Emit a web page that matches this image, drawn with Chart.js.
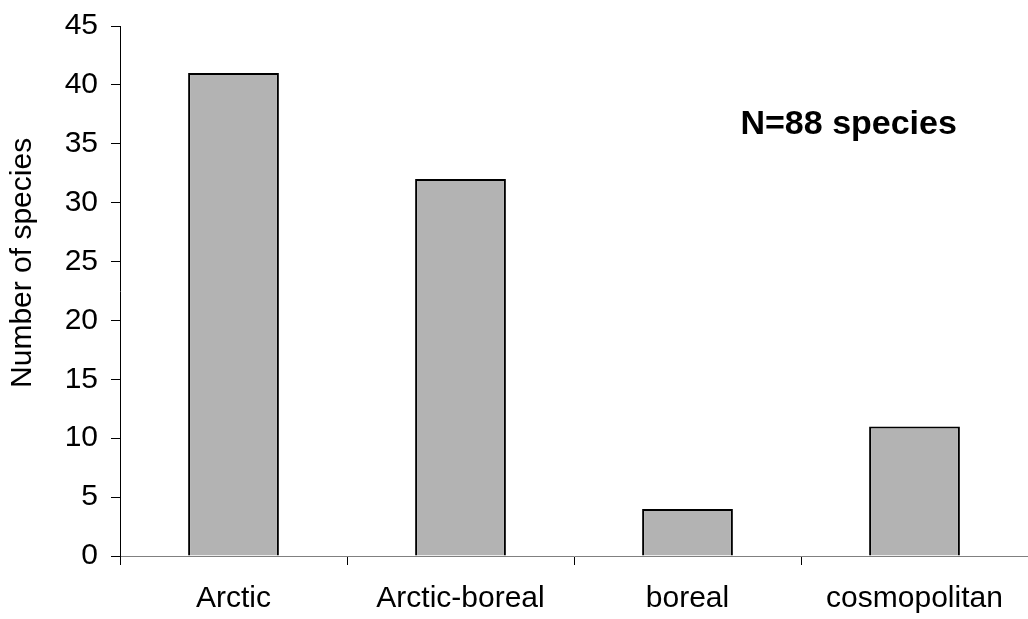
<!DOCTYPE html>
<html lang="en">
<head>
  <meta charset="utf-8">
  <title>Number of species by distribution group</title>
  <script src="https://cdn.jsdelivr.net/npm/chart.js@4/dist/chart.umd.min.js"></script>
  <style>
    body { margin: 0; background: #fff; }
  </style>
</head>
<body>
  <canvas id="c" width="1028" height="619"></canvas>
  <script>
    // data
    var categories = ['Arctic', 'Arctic-boreal', 'boreal', 'cosmopolitan'];
    var speciesCount = [41, 32, 4, 11];
    var yTicks = [0, 5, 10, 15, 20, 25, 30, 35, 40, 45];
    var yTitle = 'Number of species';
    var note = 'N=88 species';

    var fontFamily = '"Liberation Sans", Arial, sans-serif';

    // y title sits a bit above the middle of the axis, and the note in the upper right
    var textPlugin = {
      id: 'texts',
      afterDraw: function (chart) {
        var ctx = chart.ctx;
        var area = chart.chartArea;
        ctx.save();
        ctx.fillStyle = '#000';
        ctx.textAlign = 'center';
        ctx.textBaseline = 'middle';

        ctx.font = 'bold 34px ' + fontFamily;
        ctx.fillText(note, chart.scales.x.getPixelForValue(2.71), chart.scales.y.getPixelForValue(36.6));

        ctx.font = '30px ' + fontFamily;
        ctx.translate(23, area.top + area.height * 0.447);
        ctx.rotate(-Math.PI / 2);
        ctx.fillText(yTitle, 0, 0);
        ctx.restore();
      }
    };

    var ctx = document.getElementById('c');
    var chart = new Chart(ctx, {
      type: 'bar',
      data: {
        labels: categories,
        datasets: [{
          label: yTitle,
          data: speciesCount,
          backgroundColor: '#b3b3b3',
          borderColor: '#000',
          borderWidth: 2,
          barPercentage: 0.4,
          categoryPercentage: 1.0
        }]
      },
      options: {
        responsive: false,
        animation: false,
        layout: { padding: { top: 26, right: 0, left: 0, bottom: 0 } },
        plugins: {
          legend: { display: false },
          tooltip: { enabled: false }
        },
        scales: {
          x: {
            afterFit: function (s) { s.height = 63; s.paddingLeft = 0; s.paddingRight = 0; },
            grid: { offset: true, drawOnChartArea: false, tickLength: 9, color: '#000' },
            border: { color: '#808080', width: 1 },
            ticks: { color: '#000', font: { family: fontFamily, size: 30 }, padding: 16, maxRotation: 0 }
          },
          y: {
            min: 0,
            max: 45,
            afterFit: function (s) { s.width = 120; s.paddingTop = 0; s.paddingBottom = 0; },
            afterBuildTicks: function (s) { s.ticks = yTicks.map(function (v) { return { value: v }; }); },
            grid: { drawOnChartArea: false, tickLength: 9, color: '#000' },
            border: { color: '#000', width: 1 },
            ticks: { color: '#000', font: { family: fontFamily, size: 30 }, padding: 13 }
          }
        }
      },
      plugins: [textPlugin]
    });
  </script>
</body>
</html>
